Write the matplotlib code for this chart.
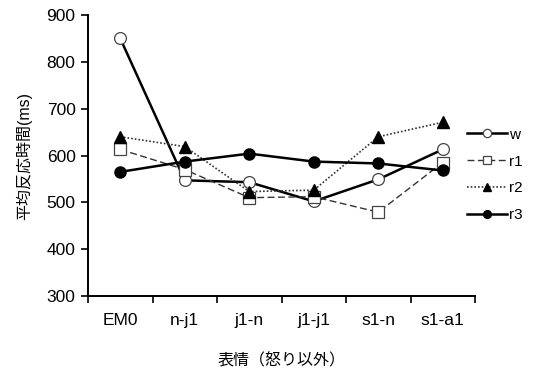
import matplotlib.pyplot as plt

plt.rcParams['font.family'] = ['Liberation Sans', 'Noto Sans CJK JP', 'DejaVu Sans']

categories = ["EM0", "n-j1", "j1-n", "j1-j1", "s1-n", "s1-a1"]
w = [850, 547, 543, 502, 549, 613]
r1 = [613, 570, 510, 512, 479, 585]
r2 = [640, 619, 523, 526, 640, 671]
r3 = [565, 587, 604, 587, 583, 568]
yticks = [300, 400, 500, 600, 700, 800, 900]

fig = plt.figure(figsize=(5.35, 3.72), dpi=100)
ax = fig.add_axes([88 / 535, 1 - 296 / 372, (475 - 88) / 535, (296 - 15) / 372])

x = range(len(categories))
ax.plot(x, w, color='black', lw=1.8, marker='o', ms=8.5, mfc='white', mec='#444444', mew=0.9, label='w')
ax.plot(x, r1, color='#333333', lw=1.0, ls=(0, (5, 2.5)), marker='s', ms=8.5, mfc='white', mec='#444444', mew=0.9, label='r1')
ax.plot(x, r2, color='#333333', lw=1.2, ls=(0, (1, 1.2)), marker='^', ms=9, mfc='black', mec='black', label='r2')
ax.plot(x, r3, color='black', lw=1.8, marker='o', ms=8, mfc='black', mec='black', label='r3')

ax.set_xlim(-0.5, len(categories) - 0.5)
ax.set_ylim(300, 900)
ax.set_yticks(yticks)
ax.set_xticks(list(x))
ax.set_xticklabels(categories)
ax.set_xticks([i - 0.5 for i in range(len(categories) + 1)], minor=True)
ax.tick_params(axis='x', which='major', length=0, pad=12, labelsize=12.5)
ax.tick_params(axis='x', which='minor', length=5, width=1.2, direction='out')
ax.tick_params(axis='y', length=5, width=1.2, direction='out', labelsize=12.5, pad=4)

for s in ['top', 'right']:
    ax.spines[s].set_visible(False)
for s in ['left', 'bottom']:
    ax.spines[s].set_linewidth(1.4)

ax.set_xlabel("表情（怒り以外）", fontsize=11.5, labelpad=18)
ax.set_ylabel("平均反応時間(ms)", fontsize=11.5, labelpad=10)

fig.legend(loc='center left', bbox_to_anchor=(467 / 535, 1 - 175 / 372), frameon=False,
           borderaxespad=0, borderpad=0,
           fontsize=11, handlelength=2.6, handletextpad=0.15, labelspacing=0.85, markerscale=0.7)

fig.savefig("out.png", dpi=100)
